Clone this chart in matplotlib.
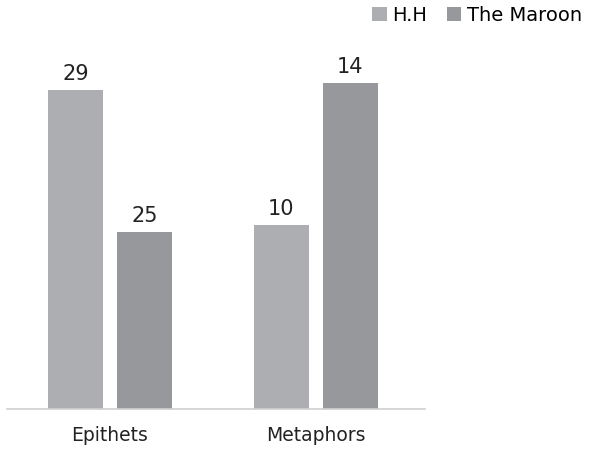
import numpy as np
import matplotlib.pyplot as plt

categories = ['Epithets', 'Metaphors']
series = ['H.H', 'The Maroon']
hh_values = [29, 10]
maroon_values = [25, 14]
# bar heights as drawn in the picture (the original chart does not share one scale)
hh_heights = [319, 184]
maroon_heights = [177, 326]

colors = ['#adaeb2', '#97989c']

plt.rcParams['font.family'] = ['DejaVu Sans']

fig = plt.figure(figsize=(5.95, 4.53), dpi=100)
ax = fig.add_axes([7 / 595, 44 / 453, 418 / 595, 369 / 453])

x = np.arange(len(categories))
w = 0.267
off = 0.1675
b1 = ax.bar(x - off, hh_heights, w, color=colors[0], label=series[0])
b2 = ax.bar(x + off, maroon_heights, w, color=colors[1], label=series[1])

for bars, vals in [(b1, hh_values), (b2, maroon_values)]:
    for r, v in zip(bars, vals):
        ax.text(r.get_x() + r.get_width() / 2, r.get_height() + 6, str(v),
                ha='center', va='bottom', fontsize=15, color='#222222')

ax.set_xlim(-0.5, 1.53)
ax.set_ylim(0, 369)
ax.set_xticks(x)
ax.set_xticklabels(categories, fontsize=13.5, color='#222222')
ax.tick_params(axis='x', length=0, pad=12)
ax.set_yticks([])
for s in ['top', 'right', 'left']:
    ax.spines[s].set_visible(False)
ax.spines['bottom'].set_color('#d0d0d0')
ax.spines['bottom'].set_linewidth(1.2)

fig.legend(loc='upper right', bbox_to_anchor=(0.995, 1.008), ncol=2, frameon=False,
           fontsize=14, handlelength=0.75, handleheight=0.75, handletextpad=0.3,
           columnspacing=1.0, borderaxespad=0.1)

fig.savefig('out.png', dpi=100)
